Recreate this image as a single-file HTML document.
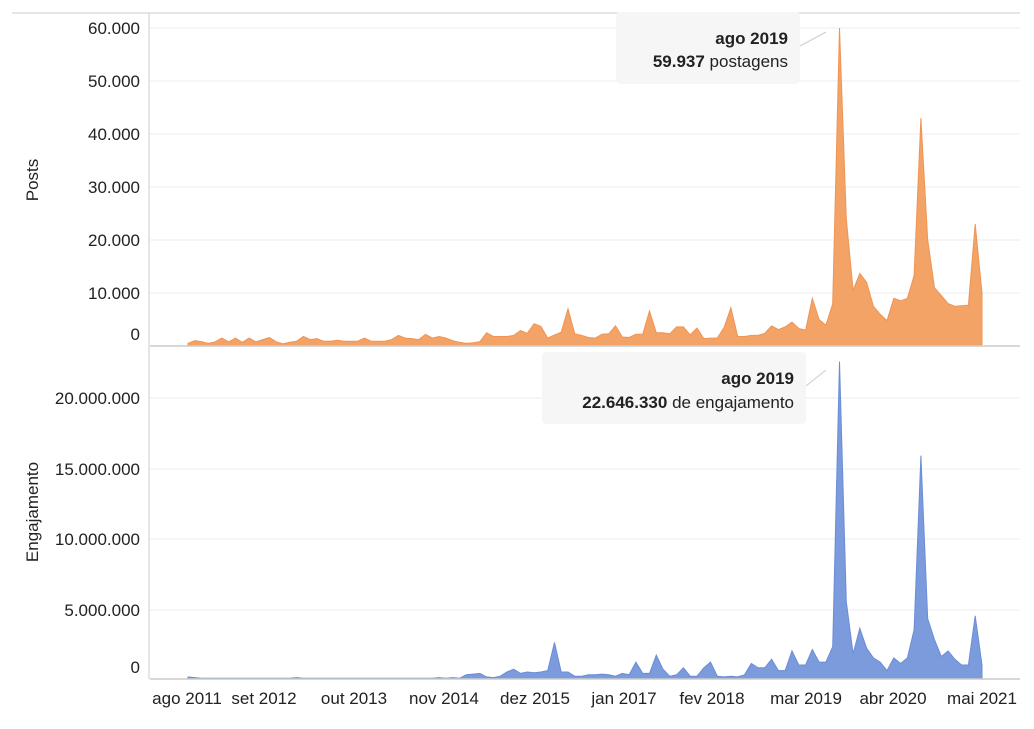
<!DOCTYPE html>
<html><head><meta charset="utf-8"><style>
body{margin:0;background:#fff;width:1034px;height:724px;overflow:hidden}
svg{font-family:"Liberation Sans",sans-serif}
</style></head><body>
<svg id="s" width="1034" height="724" viewBox="0 0 1034 724">
<line x1="12" y1="13" x2="1020" y2="13" stroke="#ddd" stroke-width="1.5"/>
<g stroke="#eee" stroke-width="1">
<line x1="150" y1="28" x2="1020" y2="28"/><line x1="150" y1="81" x2="1020" y2="81"/>
<line x1="150" y1="134" x2="1020" y2="134"/><line x1="150" y1="187" x2="1020" y2="187"/>
<line x1="150" y1="240" x2="1020" y2="240"/><line x1="150" y1="293" x2="1020" y2="293"/>
<line x1="150" y1="398" x2="1020" y2="398"/><line x1="150" y1="469" x2="1020" y2="469"/>
<line x1="150" y1="539" x2="1020" y2="539"/><line x1="150" y1="610" x2="1020" y2="610"/>
</g>
<path id="p1" fill="#f3a366" stroke="#ef9455" stroke-width="1"/>
<path id="p2" fill="#7b9bdc" stroke="#6c8dd6" stroke-width="1"/>
<line x1="149" y1="13" x2="149" y2="679" stroke="#ccc"/>
<line x1="150" y1="346" x2="1020" y2="346" stroke="#ccc" stroke-width="1.5"/>
<line x1="150" y1="679" x2="1020" y2="679" stroke="#ccc" stroke-width="1.5"/>
<g font-size="17" fill="#222" text-anchor="end">
<text x="140" y="34">60.000</text><text x="140" y="87">50.000</text><text x="140" y="140">40.000</text>
<text x="140" y="193">30.000</text><text x="140" y="246">20.000</text><text x="140" y="299">10.000</text>
<text x="140" y="340">0</text>
<text x="140" y="404">20.000.000</text><text x="140" y="475">15.000.000</text>
<text x="140" y="545">10.000.000</text><text x="140" y="616">5.000.000</text><text x="140" y="673">0</text>
</g>
<g font-size="17" fill="#222" text-anchor="middle">
<text transform="translate(38,180) rotate(-90)">Posts</text>
<text transform="translate(38,512) rotate(-90)">Engajamento</text>
<text x="187" y="704">ago 2011</text><text x="264" y="704">set 2012</text><text x="354" y="704">out 2013</text>
<text x="444" y="704">nov 2014</text><text x="535" y="704">dez 2015</text><text x="624" y="704">jan 2017</text>
<text x="712" y="704">fev 2018</text><text x="806" y="704">mar 2019</text><text x="893" y="704">abr 2020</text>
<text x="982" y="704">mai 2021</text>
</g>
<rect x="616" y="12" width="184" height="72" rx="4" fill="#f6f6f6"/>
<line x1="800" y1="46" x2="826" y2="32" stroke="#ccc"/>
<g font-size="17" fill="#222" text-anchor="end">
<text x="788" y="44" font-weight="bold">ago 2019</text>
<text x="788" y="67"><tspan font-weight="bold">59.937</tspan> postagens</text>
</g>
<rect x="542" y="352" width="264" height="72" rx="4" fill="#f6f6f6"/>
<line x1="806" y1="386" x2="826" y2="370" stroke="#ccc"/>
<g font-size="17" fill="#222" text-anchor="end">
<text x="794" y="384" font-weight="bold">ago 2019</text>
<text x="794" y="408"><tspan font-weight="bold">22.646.330</tspan> de engajamento</text>
</g>
</svg>
<script>
var pre=[0.5,1,0.8,0.5,0.8,1.5,0.8,1.5,0.7,1.5,0.8,1.2,1.6,0.8,0.4,0.7,0.9,1.8,1.2,1.4,1.1,0.9,0.9,0.9,1.5,0.9,0.9,0.9,1.2,2,1.5,1.4,1.2,2.2,1.5,1.8,1.5,1,0.7,0.5,0.6,0.8,2.5,1.8,1.8,1.8,2,2.9,2.4,4.2,3.7,1.5,2.1,2.6,7,2.3,2,1.6,1.5,2.2,2.3,3.8,1.7,1.6,2.2,2.2,6.6,2.5,2.5,2.3,3.6,3.6,2.1,3.4,1.4,1.5,1.5,3.5,7.2,1.8,1.8,2,2,2.4,3.8,3.1,3.6,4.5,3.3,3,9,5,3.9,8];
while(pre.length<96)pre.splice(20,0,0.9);
var post=[60,24,10.5,13.7,12,7.5,6,4.8,9,8.5,9,13.3,43,20,11,9.5,8,7.5,7.6,7.7,23,10];
var posts=pre.concat(post);
var eng=[0.15,0.1,0.05,0.05,0.05,0.05,0.05,0.05,0.05,0.05,0.05,0.05,0.05,0.05,0.05,0.05,0.1,0.05,0.05,0.05,0.05,0.05,0.05,0.05,0.05,0.05,0.05,0.05,0.05,0.05,0.05,0.05,0.05,0.05,0.05,0.05,0.05,0.1,0.05,0.1,0.05,0.3,0.35,0.4,0.15,0.1,0.2,0.5,0.7,0.4,0.5,0.45,0.5,0.6,2.6,0.5,0.5,0.2,0.2,0.3,0.3,0.35,0.3,0.2,0.4,0.3,1.2,0.4,0.4,1.7,0.7,0.2,0.3,0.8,0.2,0.2,0.8,1.2,0.2,0.15,0.2,0.15,0.3,1.1,0.8,0.8,1.4,0.6,0.6,2,1,1,2.1,1.2,1.2,2.3,22.6,5.5,1.8,3.6,2.2,1.5,1.2,0.6,1.5,1.1,1.5,3.5,15.9,4.3,2.8,1.6,2,1.4,1,1,4.5,1];
function mk(a,base,scale){var n=a.length,d="M188,"+base;for(var i=0;i<n;i++){var x=188+i*794/(n-1);d+=" L"+x.toFixed(1)+","+(base-a[i]*scale).toFixed(1);}d+=" L982,"+base+" Z";return d;}
document.getElementById("p1").setAttribute("d",mk(posts,346,5.3));
document.getElementById("p2").setAttribute("d",mk(eng,679,14.05));
</script>
</body></html>
